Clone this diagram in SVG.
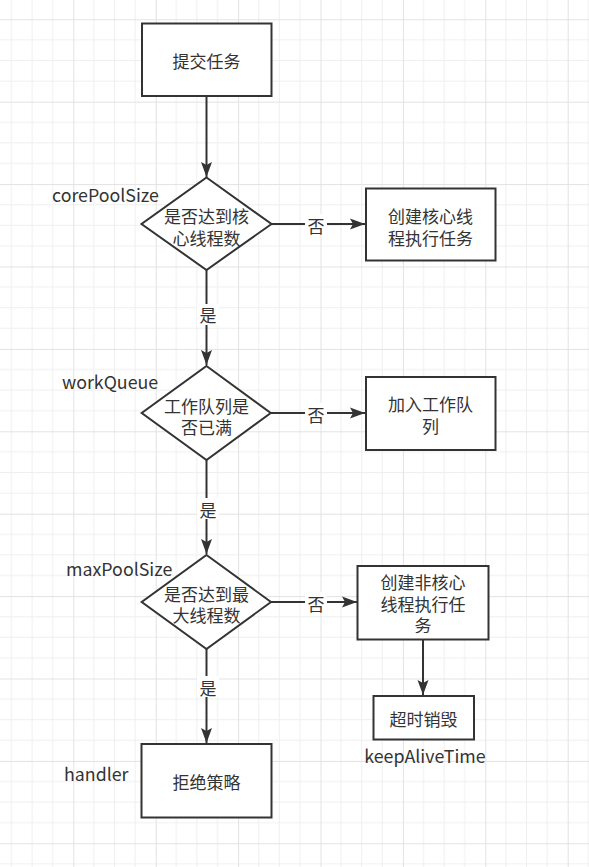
<svg xmlns="http://www.w3.org/2000/svg" width="589" height="867" viewBox="0 0 589 867">
<defs>
<pattern id="grid" patternUnits="userSpaceOnUse" x="73.3" y="19.3" width="82.4" height="82.4">
<path d="M20.6,0V82.4M41.2,0V82.4M61.8,0V82.4M0,20.6H82.4M0,41.2H82.4M0,61.8H82.4" stroke="#efefef" stroke-width="1" fill="none"/>
<path d="M0.5,0V82.4M0,0.5H82.4" stroke="#e2e2e2" stroke-width="1" fill="none"/>
</pattern>
<marker id="arr" markerUnits="userSpaceOnUse" markerWidth="16" markerHeight="12" refX="15" refY="6" orient="auto">
<path d="M0,0.5 L15,6 L0,11.5 L3,6 Z" fill="#333"/>
</marker>
<style>
.box{fill:#fff;stroke:#333;stroke-width:2}
.t{font-family:"Microsoft YaHei","Noto Sans CJK SC",sans-serif;font-size:17px;fill:#333;text-anchor:middle;dominant-baseline:central}
.lbl{font-family:"Microsoft YaHei","Noto Sans CJK SC",sans-serif;font-size:17.8px;fill:#333;dominant-baseline:central}
.e{stroke:#333;stroke-width:2;fill:none;marker-end:url(#arr)}
.bg{fill:#fff}
</style>
</defs>
<rect width="589" height="867" fill="#fff"/>
<rect width="589" height="867" fill="url(#grid)"/>

<g id="connectors">
<path class="e" d="M206.5,96 V177"/>
<path class="e" d="M271.5,224 H365"/>
<rect class="bg" x="305" y="214" width="22" height="21"/>
<text class="t" x="316" y="225">否</text>
<path class="e" d="M206.5,270 V365"/>
<rect class="bg" x="197" y="304" width="22" height="21"/>
<text class="t" x="208" y="314">是</text>
<path class="e" d="M270.7,413 H365"/>
<rect class="bg" x="305" y="403" width="22" height="21"/>
<text class="t" x="316" y="414">否</text>
<path class="e" d="M206.5,460 V554"/>
<rect class="bg" x="197" y="498" width="22" height="21"/>
<text class="t" x="208" y="509">是</text>
<path class="e" d="M271,602 H357"/>
<rect class="bg" x="305" y="592" width="22" height="21"/>
<text class="t" x="316" y="603">否</text>
<path class="e" d="M206.5,649 V743"/>
<rect class="bg" x="197" y="676" width="22" height="21"/>
<text class="t" x="208" y="687">是</text>
<path class="e" d="M423,639.5 V695"/>
</g>

<g id="n_submit">
<rect class="box" x="142" y="23.5" width="129.5" height="72.5"/>
<text class="t" x="206.5" y="60">提交任务</text>
</g>

<g id="n_core">
<path class="box" d="M206.5,177.5 L271.5,224 L206.5,270 L141.5,224 Z"/>
<text class="t" x="206.5" y="215">是否达到核<tspan x="206.5" dy="21.5">心线程数</tspan></text>
<text class="lbl" x="52" y="194">corePoolSize</text>
</g>

<g id="n_createCore">
<rect class="box" x="366" y="188.5" width="129.5" height="72"/>
<text class="t" x="430.5" y="215">创建核心线<tspan x="430.5" dy="21.5">程执行任务</tspan></text>
</g>

<g id="n_queue">
<path class="box" d="M206.5,366 L270.7,413 L206.5,460 L141.7,413 Z"/>
<text class="t" x="206.5" y="405">工作队列是<tspan x="206.5" dy="20.5">否已满</tspan></text>
<text class="lbl" x="62" y="381">workQueue</text>
</g>

<g id="n_addQueue">
<rect class="box" x="366" y="377" width="129.5" height="73"/>
<text class="t" x="430.5" y="403.5">加入工作队<tspan x="430.5" dy="21.5">列</tspan></text>
</g>

<g id="n_max">
<path class="box" d="M206.5,555 L271,602 L206.5,649 L141.7,602 Z"/>
<text class="t" x="206.5" y="593">是否达到最<tspan x="206.5" dy="21">大线程数</tspan></text>
<text class="lbl" x="66" y="568">maxPoolSize</text>
</g>

<g id="n_createNonCore">
<rect class="box" x="357.5" y="566" width="131" height="73.5"/>
<text class="t" x="423" y="581.5">创建非核心<tspan x="423" dy="21.3">线程执行任</tspan><tspan x="423" dy="21.3">务</tspan></text>
</g>

<g id="n_timeout">
<rect class="box" x="373.5" y="696" width="100.5" height="43.5"/>
<text class="t" x="423.5" y="718">超时销毁</text>
<text class="lbl" x="425" y="754.5" text-anchor="middle">keepAliveTime</text>
</g>

<g id="n_reject">
<rect class="box" x="141.5" y="744" width="130" height="73.5"/>
<text class="t" x="206.5" y="781">拒绝策略</text>
<text class="lbl" x="64" y="773">handler</text>
</g>
</svg>
